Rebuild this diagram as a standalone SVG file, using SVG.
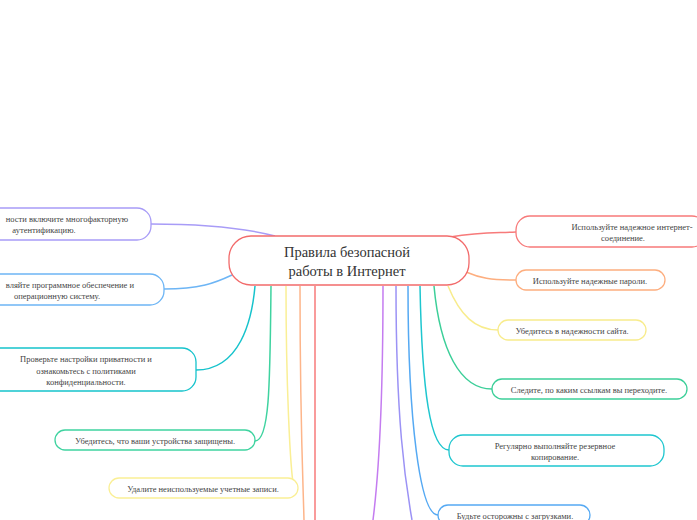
<svg xmlns="http://www.w3.org/2000/svg" width="697" height="520" viewBox="0 0 697 520">
<style>
text{font-family:"Liberation Serif",serif;font-size:8.5px;fill:#444;text-anchor:middle}
.t{font-size:14.5px;fill:#333}
rect{fill:#fff;stroke-width:1.3}
path{fill:none;stroke-width:1.5}
</style>
<rect x="0" y="0" width="697" height="520" fill="#fff" stroke="none"/>
<g id="connectors">
<path d="M450,237 C480,232 490,233 516,232" stroke="#f77a7a"/>
<path d="M466,272 C480,278 490,280 516,280" stroke="#fdae7f"/>
<path d="M448,286 C460,315 475,330 498,330" stroke="#f8ec8c"/>
<path d="M434,286 C440,350 460,389 492,389" stroke="#3ccf99"/>
<path d="M420,286 C422,390 430,450 449,450" stroke="#1ec6cf"/>
<path d="M408,286 C408,420 420,515 438,515" stroke="#55a9f3"/>
<path d="M396,286 C396,420 405,480 412,520" stroke="#9b92f5"/>
<path d="M383,286 C383,420 378,480 373,520" stroke="#c47cf0"/>
<path d="M151,224 C200,224 240,227 275,236" stroke="#a89cf7"/>
<path d="M164,289 C200,289 215,283 232,275" stroke="#6db5f5"/>
<path d="M196,370 C240,370 252,320 255,286" stroke="#16c3cc"/>
<path d="M255,441 C270,441 270,380 271,286" stroke="#3fd3a0"/>
<path d="M294,489 C290,470 286,380 286,286" stroke="#faef95"/>
<path d="M300,286 C300,420 303,480 304,520" stroke="#fdb58a"/>
<path d="M315,286 L315,520" stroke="#f77a7a"/>
</g>
<g id="center"><rect x="229" y="236" width="240" height="49" rx="22" stroke="#f26b6b" stroke-width="3"/>
<text class="t" x="347" y="257">Правила безопасной</text><text class="t" x="347" y="276">работы в Интернет</text></g>
<g id="n1"><rect x="516" y="216" width="190" height="31" rx="14" stroke="#f77a7a"/><text x="632" y="230">Используйте надежное интернет-</text><text x="623" y="241">соединение.</text></g>
<g id="n2"><rect x="516" y="270" width="149" height="20" rx="10" stroke="#fdae7f"/><text x="590" y="284">Используйте надежные пароли.</text></g>
<g id="n3"><rect x="498" y="320" width="148" height="20" rx="10" stroke="#f8ec8c"/><text x="572" y="334">Убедитесь в надежности сайта.</text></g>
<g id="n4"><rect x="492" y="379" width="195" height="20" rx="10" stroke="#3ccf99"/><text x="589" y="393">Следите, по каким ссылкам вы переходите.</text></g>
<g id="n5"><rect x="449" y="435" width="215" height="31" rx="14" stroke="#1ec6cf"/><text x="555" y="449">Регулярно выполняйте резервное</text><text x="555" y="460">копирование.</text></g>
<g id="n6"><rect x="438" y="505" width="152" height="20" rx="10" stroke="#55a9f3"/><text x="515" y="519">Будьте осторожны с загрузками.</text></g>
<g id="n7"><rect x="-60" y="208" width="211" height="32" rx="14" stroke="#a89cf7"/><text x="128" y="222" style="text-anchor:end">ности включите многофакторную</text><text x="44" y="233">аутентификацию.</text></g>
<g id="n8"><rect x="-60" y="274" width="224" height="31" rx="14" stroke="#6db5f5"/><text x="134" y="288" style="text-anchor:end">вляйте программное обеспечение и</text><text x="57" y="299">операционную систему.</text></g>
<g id="n9"><rect x="-20" y="348" width="216" height="43" rx="14" stroke="#16c3cc"/><text x="86" y="362">Проверьте настройки приватности и</text><text x="86" y="374">ознакомьтесь с политиками</text><text x="86" y="385">конфиденциальности.</text></g>
<g id="n10"><rect x="55" y="430" width="200" height="20" rx="10" stroke="#3fd3a0"/><text x="155" y="444">Убедитесь, что ваши устройства защищены.</text></g>
<g id="n11"><rect x="109" y="478" width="189" height="20" rx="10" stroke="#faef95"/><text x="203" y="492">Удалите неиспользуемые учетные записи.</text></g>
</svg>
